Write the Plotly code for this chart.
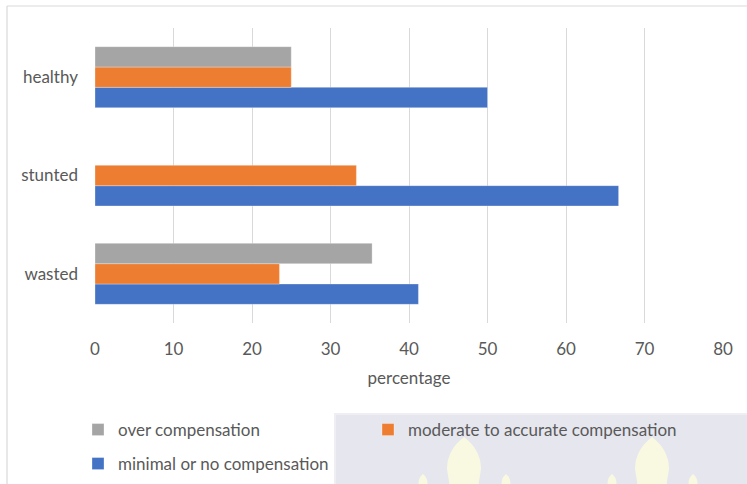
import plotly.graph_objects as go

# Share of children in each compensation group, by nutritional status
groups = ["wasted", "stunted", "healthy"]
minimal = [41.2, 66.7, 50.0]
moderate = [23.5, 33.3, 25.0]
over = [35.3, 0.0, 25.0]

series_names = [
    "minimal or no compensation",
    "moderate to accurate compensation",
    "over compensation",
]
series_colors = ["#4472c4", "#ed7d31", "#a5a5a5"]

W, H = 747, 484
ML, MR, MT, MB = 95, 24, 28, 161
PW, PH = W - ML - MR, H - MT - MB


def px_x(x):
    return (x - ML) / PW


def px_y(y):
    return 1 - (y - MT) / PH


FONT = "Lato"
TXT = "#595959"
FS = 17

fig = go.Figure()
values = [minimal, moderate, over]
legend_ids = ["legend2", "legend3", "legend"]
for name, vals, col, lg in zip(series_names, values, series_colors, legend_ids):
    fig.add_trace(go.Bar(
        y=groups, x=vals, name=name, orientation="h",
        marker=dict(color=col, line=dict(color="rgba(255,255,255,0.5)", width=0.6)),
        legend=lg,
    ))

shapes = [
    # chart frame (left and top edges)
    dict(type="line", xref="paper", yref="paper", x0=px_x(7), x1=px_x(7),
         y0=px_y(6), y1=px_y(H), line=dict(color="#d9d9d9", width=1.2)),
    dict(type="line", xref="paper", yref="paper", x0=px_x(7), x1=px_x(W),
         y0=px_y(6), y1=px_y(6), line=dict(color="#d9d9d9", width=1.2)),
    # panel behind the lower-right legend entry
    dict(type="rect", xref="paper", yref="paper", x0=px_x(335), x1=px_x(W + 2),
         y0=px_y(H + 2), y1=px_y(414), fillcolor="#e6e6ee",
         line=dict(color="#eeeef3", width=2), layer="below"),
]


def flame(cx, top, half_w, belly):
    """Teardrop outline in paper coordinates, tip up, open past the bottom."""
    pts = [
        (cx, top),
        (cx + half_w, top + belly),
        (cx + half_w * 0.8, H + 6),
        (cx - half_w * 0.8, H + 6),
        (cx - half_w, top + belly),
    ]
    x = [px_x(p[0]) for p in pts]
    y = [px_y(p[1]) for p in pts]
    return (f"M{x[0]},{y[0]} Q{px_x(cx + half_w)},{px_y(top + belly * 0.4)} {x[1]},{y[1]} "
            f"L{x[2]},{y[2]} L{x[3]},{y[3]} L{x[4]},{y[4]} "
            f"Q{px_x(cx - half_w)},{px_y(top + belly * 0.4)} {x[0]},{y[0]} Z")


# pale decorative flames on the panel
for cx in [464, 652]:
    shapes.append(dict(type="path", xref="paper", yref="paper",
                       path=flame(cx, 437, 17, 32), fillcolor="#f9f9e2",
                       line=dict(width=0), layer="below"))
for cx in [423, 506, 612, 693]:
    shapes.append(dict(type="path", xref="paper", yref="paper",
                       path=flame(cx, 474, 4.5, 9), fillcolor="#f9f9e2",
                       line=dict(width=0), layer="below"))


def legend_at(x_px, y_px):
    return dict(orientation="h", xref="container", yref="container",
                x=x_px / W, y=1 - y_px / H, xanchor="left", yanchor="middle",
                font=dict(size=FS, color=TXT), bgcolor="rgba(0,0,0,0)")


fig.update_layout(
    width=W, height=H,
    margin=dict(l=ML, r=MR, t=MT, b=MB, autoexpand=False),
    paper_bgcolor="white", plot_bgcolor="white",
    barmode="group", bargap=0.38, bargroupgap=0,
    font=dict(family=FONT, size=FS, color=TXT),
    xaxis=dict(range=[0, 80], dtick=10, showgrid=True, gridcolor="#d9d9d9",
               gridwidth=1, zeroline=False, showline=False, automargin=False,
               tickfont=dict(size=FS, color=TXT), ticklabelstandoff=14,
               title=dict(text="percentage", font=dict(size=FS, color=TXT),
                          standoff=14)),
    yaxis=dict(showgrid=False, zeroline=False, showline=False, automargin=False,
               tickfont=dict(size=FS, color=TXT), ticklabelstandoff=16),
    legend=legend_at(78, 430),
    legend3=legend_at(368, 430),
    legend2=legend_at(78, 464),
    shapes=shapes,
    showlegend=True,
)

fig.write_html("out.html")
